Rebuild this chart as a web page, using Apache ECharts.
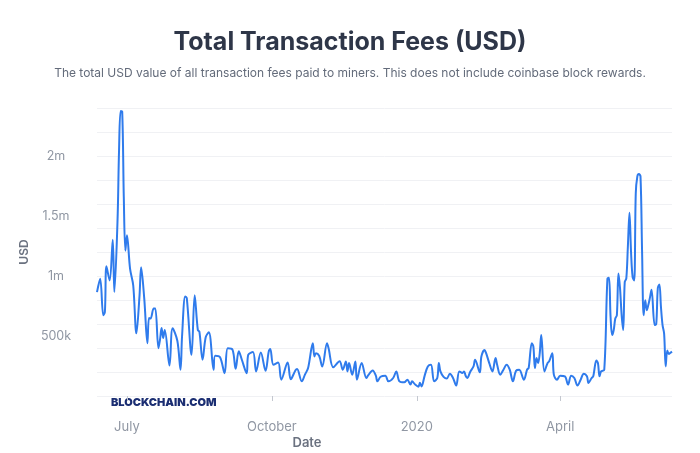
<!DOCTYPE html>
<html>
<head>
<meta charset="utf-8">
<script src="https://cdn.jsdelivr.net/npm/echarts@6/dist/echarts.min.js"></script>
<style>
  html, body { margin: 0; padding: 0; background: #ffffff; }
  #chart { width: 700px; height: 453px; }
</style>
</head>
<body>
<div id="chart"></div>
<script>
// ---- data (values in thousands of USD) ----
const dates = [
  '2019-06-12','2019-06-14','2019-06-16','2019-06-17','2019-06-18','2019-06-20','2019-06-22','2019-06-23',
  '2019-06-25','2019-06-26','2019-06-27','2019-06-28','2019-06-29','2019-06-30','2019-07-01','2019-07-03',
  '2019-07-05','2019-07-07','2019-07-09','2019-07-10','2019-07-12','2019-07-14','2019-07-15','2019-07-16',
  '2019-07-18','2019-07-19','2019-07-21','2019-07-22','2019-07-23','2019-07-24','2019-07-25','2019-07-28',
  '2019-07-30','2019-08-02','2019-08-04','2019-08-05','2019-08-07','2019-08-08','2019-08-11','2019-08-13',
  '2019-08-15','2019-08-16','2019-08-18','2019-08-20','2019-08-22','2019-08-25','2019-08-26','2019-08-29',
  '2019-09-01','2019-09-03','2019-09-06','2019-09-08','2019-09-10','2019-09-12','2019-09-15','2019-09-16',
  '2019-09-19','2019-09-21','2019-09-24','2019-09-27','2019-09-29','2019-09-30','2019-10-02','2019-10-05',
  '2019-10-07','2019-10-11','2019-10-13','2019-10-16','2019-10-17','2019-10-20','2019-10-22','2019-10-24',
  '2019-10-27','2019-10-28','2019-10-29','2019-10-31','2019-11-02','2019-11-05','2019-11-06','2019-11-09',
  '2019-11-13','2019-11-15','2019-11-17','2019-11-18','2019-11-19','2019-11-21','2019-11-23','2019-11-24',
  '2019-11-27','2019-11-30','2019-12-01','2019-12-04','2019-12-06','2019-12-07','2019-12-09','2019-12-12',
  '2019-12-14','2019-12-17','2019-12-19','2019-12-21','2019-12-24','2019-12-26','2019-12-28','2019-12-29',
  '2019-12-31','2020-01-02','2020-01-03','2020-01-04','2020-01-06','2020-01-08','2020-01-10','2020-01-12',
  '2020-01-14','2020-01-15','2020-01-16','2020-01-18','2020-01-20','2020-01-22','2020-01-24','2020-01-26',
  '2020-01-28','2020-01-30','2020-01-31','2020-02-01','2020-02-02','2020-02-04','2020-02-06','2020-02-07',
  '2020-02-10','2020-02-11','2020-02-13','2020-02-14','2020-02-16','2020-02-18','2020-02-20','2020-02-21',
  '2020-02-23','2020-02-25','2020-02-27','2020-02-29','2020-03-02','2020-03-04','2020-03-06','2020-03-09',
  '2020-03-11','2020-03-12','2020-03-14','2020-03-15','2020-03-16','2020-03-17','2020-03-18','2020-03-19',
  '2020-03-20','2020-03-22','2020-03-24','2020-03-25','2020-03-27','2020-03-28','2020-03-30','2020-04-01',
  '2020-04-04','2020-04-06','2020-04-08','2020-04-10','2020-04-12','2020-04-14','2020-04-16','2020-04-18',
  '2020-04-19','2020-04-21','2020-04-22','2020-04-24','2020-04-25','2020-04-26','2020-04-27','2020-04-29',
  '2020-05-01','2020-05-02','2020-05-03','2020-05-04','2020-05-05','2020-05-06','2020-05-07','2020-05-08',
  '2020-05-09','2020-05-10','2020-05-11','2020-05-12','2020-05-13','2020-05-14','2020-05-15','2020-05-16',
  '2020-05-17','2020-05-18','2020-05-19','2020-05-20','2020-05-21','2020-05-22','2020-05-23','2020-05-24',
  '2020-05-25','2020-05-26','2020-05-27','2020-05-28','2020-05-29','2020-05-31','2020-06-01','2020-06-02',
  '2020-06-03','2020-06-04','2020-06-05','2020-06-06','2020-06-07','2020-06-08','2020-06-09','2020-06-10',
  '2020-06-11'
];
const feesK = [
  866, 977, 673, 700, 1081, 963, 1302, 866,
  1450, 2050, 2376, 2370, 1665, 1211, 1340, 1059,
  921, 522, 839, 1073, 811, 440, 651, 646,
  729, 729, 398, 470, 566, 483, 550, 255,
  564, 460, 219, 500, 830, 815, 343, 839,
  550, 536, 302, 490, 531, 219, 335, 325,
  190, 398, 387, 227, 373, 300, 190, 343,
  366, 205, 362, 210, 370, 392, 260, 279,
  136, 280, 139, 215, 225, 122, 178, 233,
  440, 330, 357, 335, 246, 440, 398, 240,
  290, 219, 288, 205, 274, 178, 288, 136,
  274, 150, 170, 213, 169, 122, 160, 169,
  122, 150, 205, 122, 114, 136, 95, 122,
  95, 78, 110, 80, 170, 246, 260, 122,
  150, 275, 205, 160, 145, 186, 150, 87,
  205, 192, 205, 169, 150, 205, 246, 302,
  197, 329, 384, 357, 274, 205, 316, 260,
  178, 219, 260, 219, 122, 211, 219, 136,
  219, 233, 440, 412, 233, 316, 274, 350,
  508, 205, 274, 288, 357, 178, 136, 169,
  164, 95, 169, 150, 87, 136, 186, 164,
  109, 150, 164, 296, 274, 164, 205, 219,
  977, 985, 660, 508, 550, 646, 673, 1020,
  900, 680, 550, 949, 980, 1250, 1527, 1200,
  990, 963, 1690, 1830, 1850, 1830, 1211, 673,
  797, 715, 760, 820, 886, 591, 600, 900,
  930, 740, 591, 520, 246, 380, 350, 360,
  370
];
const tickDates = ['2019-07-01', '2019-10-01', '2020-01-01', '2020-04-01'];
const tickLabels = ['July', 'October', '2020', 'April'];
const xMin = '2019-06-12';
const xMax = '2020-06-11';
const yMax = 2400000;

function localTime(s) {
  const p = s.split('-').map(Number);
  return new Date(p[0], p[1] - 1, p[2]).getTime();
}
const tickTimes = tickDates.map(localTime);
const seriesData = dates.map((d, i) => [localTime(d), feesK[i] * 1000]);

const chart = echarts.init(document.getElementById('chart'), null, { renderer: 'canvas' });
const FONT = 'Inter, "Noto Sans", sans-serif';

chart.setOption({
  backgroundColor: '#ffffff',
  animation: false,
  title: [
    {
      text: 'Total Transaction Fees (USD)',
      left: 'center', top: 25,
      textStyle: { fontFamily: FONT, fontSize: 25, fontWeight: 700, color: '#2e3648' }
    },
    {
      text: 'The total USD value of all transaction fees paid to miners. This does not include coinbase block rewards.',
      left: 'center', top: 62,
      textStyle: { fontFamily: FONT, fontSize: 12, fontWeight: 400, color: '#636b7a' }
    }
  ],
  grid: { left: 97, right: 28, top: 108, bottom: 57 },
  xAxis: {
    type: 'value',
    min: localTime(xMin),
    max: localTime(xMax),
    offset: 12,
    axisLine: { show: true, lineStyle: { color: 'rgba(0,0,0,0)' } },
    axisTick: { show: true, customValues: tickTimes, length: 5, lineStyle: { color: '#c3c7cf', width: 1 } },
    axisLabel: {
      customValues: tickTimes,
      margin: 13,
      fontFamily: FONT, fontSize: 13, color: '#9097a3',
      formatter: function (v) {
        const i = tickTimes.indexOf(v);
        return i >= 0 ? tickLabels[i] : '';
      }
    },
    splitLine: { show: false }
  },
  yAxis: [
    {
      type: 'value', min: 0, max: yMax, interval: 200000,
      axisLine: { show: false }, axisTick: { show: false },
      axisLabel: { show: false },
      splitLine: { show: true, lineStyle: { color: '#f0f1f4', width: 1 } }
    },
    {
      type: 'value', min: 0, max: yMax, interval: 500000, position: 'left',
      axisLine: { show: false }, axisTick: { show: false },
      splitLine: { show: false },
      name: 'USD', nameLocation: 'middle', nameGap: 66,
      nameTextStyle: { fontFamily: FONT, fontSize: 12, fontWeight: 600, color: '#6b7280' },
      axisLabel: {
        margin: 41, align: 'center', fontFamily: FONT, fontSize: 12.5, color: '#9097a3',
        formatter: function (v) {
          if (v === 0 || v % 500000 !== 0) return '';
          return v >= 1000000 ? (v / 1000000) + 'm' : (v / 1000) + 'k';
        }
      }
    }
  ],
  graphic: [
    {
      type: 'text', x: 111, y: 403,
      style: {
        text: 'BLOCKCHAIN.COM', fill: '#1b2e72',
        font: '900 11px ' + FONT, textVerticalAlign: 'middle'
      }
    },
    {
      type: 'text', x: 307, y: 443,
      style: {
        text: 'Date', fill: '#6b7280',
        font: '600 13px ' + FONT, textAlign: 'center', textVerticalAlign: 'middle'
      }
    }
  ],
  series: [
    {
      type: 'line',
      yAxisIndex: 0,
      data: seriesData,
      showSymbol: false,
      smooth: 0.35,
      lineStyle: { color: '#2f7bec', width: 2 },
      itemStyle: { color: '#2f7bec' }
    }
  ]
});
</script>
</body>
</html>
